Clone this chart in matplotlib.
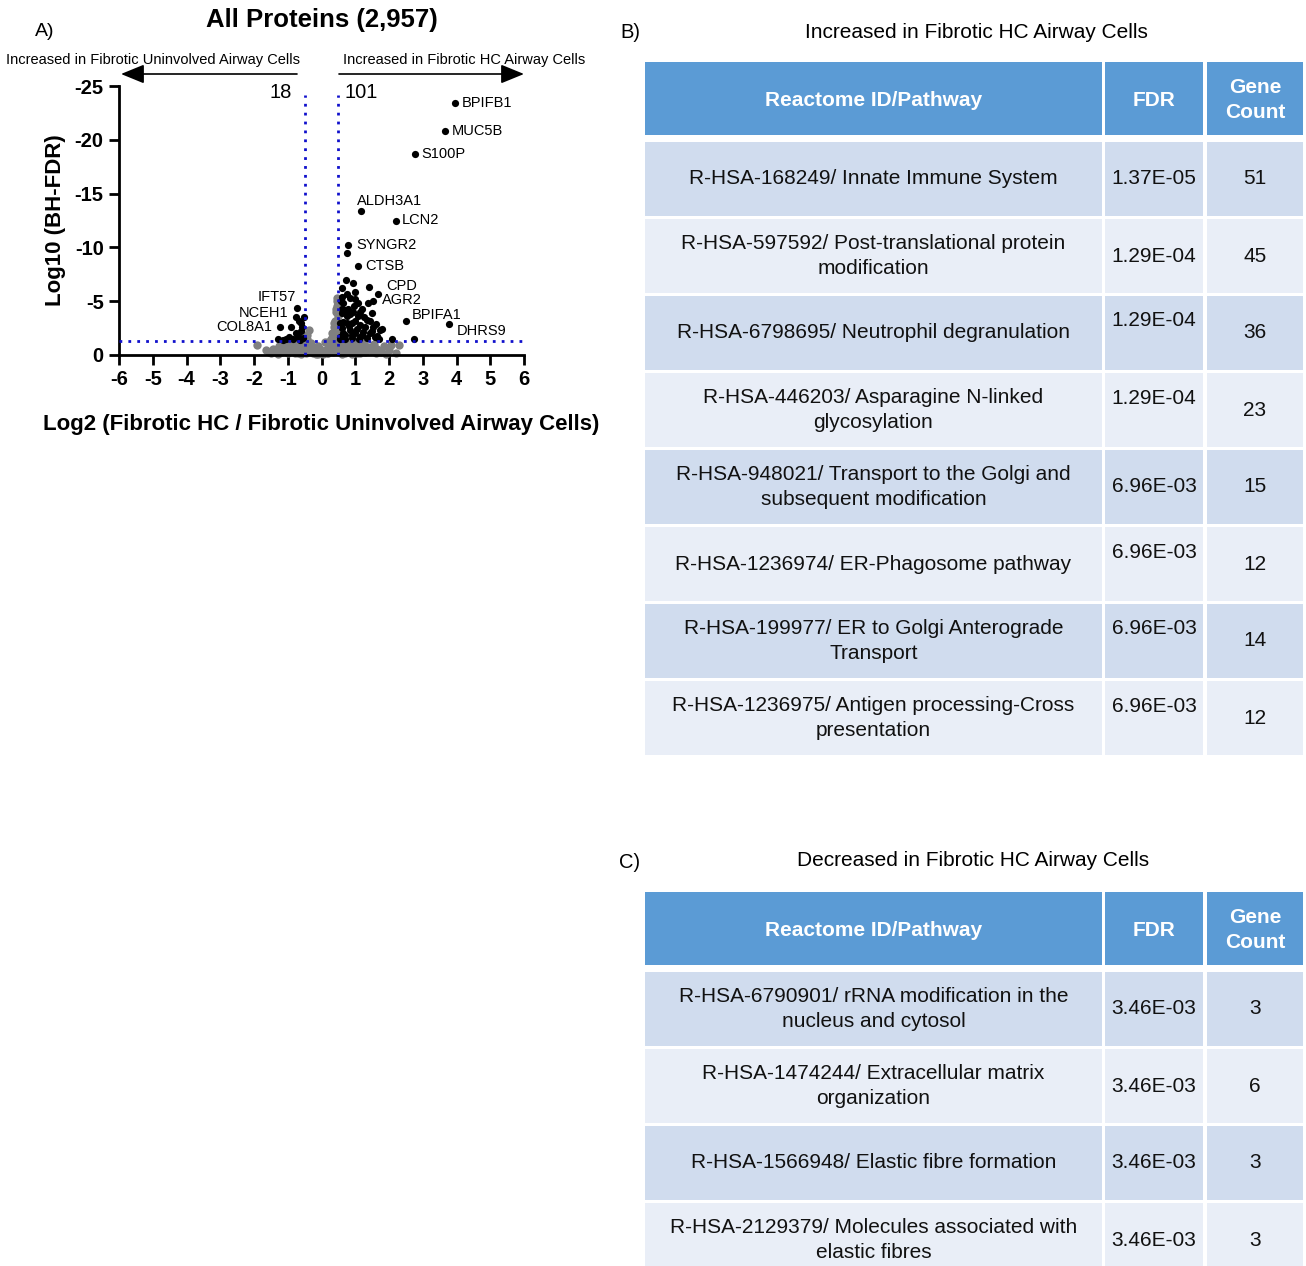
import matplotlib
matplotlib.use('Agg')
import matplotlib.pyplot as plt
from matplotlib.patches import Rectangle

plt.rcParams['font.family'] = ['Liberation Sans', 'DejaVu Sans']

# ------------------------------------------------------------------
# Volcano data
# ------------------------------------------------------------------
up_x = [3.96, 3.66, 2.77, 1.17, 2.21, 0.79, 0.76, 1.08, 1.42, 1.68, 1.52, 2.50, 3.78, 2.08, 2.74,
        0.73, 0.94, 0.60, 0.75, 0.99, 0.60, 0.84, 1.09, 0.64, 1.39, 0.79, 1.19, 0.94, 1.49, 0.60,
        0.75, 1.09, 1.34, 0.64, 0.89, 1.14, 1.53, 1.73, 0.60, 0.84, 1.24, 0.99, 1.44, 0.70, 1.14,
        1.59, 0.55, 0.89, 1.34, 0.55, 0.70, 0.85, 1.00, 1.25, 0.65, 0.80, 1.05, 1.20, 1.50, 1.65,
        1.80, 0.95, 0.60, 0.75, 1.30, 0.90, 1.10, 0.55, 1.70, 1.45, 0.70, 1.00, 1.60, 0.58, 1.15]
up_y = [-23.4, -20.8, -18.7, -13.4, -12.5, -10.2, -9.5, -8.3, -6.35, -5.64, -5.05, -3.13, -2.88, -1.52, -1.52,
        -6.97, -6.66, -6.20, -5.70, -5.90, -5.40, -5.30, -4.80, -4.80, -4.80, -4.30, -4.30, -4.00, -3.90, -3.90,
        -3.60, -3.60, -3.25, -3.10, -2.95, -2.80, -2.60, -2.30, -2.50, -2.30, -2.15, -2.00, -2.00, -1.85, -1.70,
        -1.70, -1.70, -1.55, -1.55, -3.00, -4.20, -3.80, -3.20, -3.50, -2.00, -2.70, -2.40, -1.90, -2.20, -1.80,
        -2.40, -4.60, -4.30, -3.00, -2.60, -1.90, -1.45, -1.45, -1.50, -3.20, -1.45, -5.20, -2.90, -5.00, -4.00]

down_x = [-0.72, -0.76, -0.52, -0.68, -0.60, -1.23, -0.90, -1.30, -0.95, -0.85, -0.70, -0.62,
          -0.55, -0.75, -1.05, -0.58, -0.65, -1.15]
down_y = [-4.4, -3.5, -3.5, -3.2, -3.0, -2.57, -2.6, -1.52, -1.7, -1.5, -1.8, -2.2,
          -1.6, -2.0, -1.5, -2.6, -1.4, -1.4]

ns_x = [-1.90, -1.65, -1.55, -1.45, -1.35, -1.25, -1.20, -1.10, -1.05, -0.95, -0.90, -0.85, -0.80,
        -0.75, -0.70, -0.65, -0.60, -0.55, -0.50, -0.45, -0.42, -0.38, -0.40, -0.35, -0.30, -0.25,
        -0.20, -0.15, -0.10, -0.05, 0.00, 0.05, 0.10, 0.15, 0.20, 0.22, 0.25, 0.28, 0.30, 0.32,
        0.35, 0.36, 0.38, 0.40, 0.42, 0.43, 0.45, 0.46, 0.47, 0.48, 0.48, 0.50, 0.55, 0.60, 0.65,
        0.70, 0.75, 0.80, 0.85, 0.90, 0.95, 1.00, 1.05, 1.10, 1.20, 1.25, 1.30, 1.40, 1.50, 1.55,
        1.65, 1.75, 1.85, 2.00, 2.05, 2.20, 2.30, -0.30, -0.10, 0.10, 0.30, -0.60, 0.60, 0.90,
        -1.50, -1.30, -1.00, -0.85, -0.70, -0.55, -0.45, -0.35, -0.25, -0.15, -0.05, 0.05, 0.15,
        0.25, 0.35, 0.40, 0.45, 0.52, 0.65, 0.75, 0.88, 1.00, 1.15, 1.35, 1.60, 1.90, 0.42, 0.33,
        0.38, 0.45, -0.48, -0.44, 0.20, 0.27]
ns_y = [-0.9, -0.5, -0.3, -0.6, -0.4, -0.8, -0.3, -0.6, -1.0, -0.4, -0.8, -1.2, -0.2,
        -0.6, -1.0, -0.3, -0.8, -1.2, -0.5, -0.2, -1.5, -2.3, -0.9, -0.4, -0.7, -0.15,
        -0.5, -0.3, -0.1, -0.4, -0.2, -0.05, -0.3, -0.6, -0.2, -1.0, -0.5, -1.5, -0.8, -2.0,
        -0.3, -2.6, -1.2, -3.2, -0.6, -4.0, -1.8, -4.6, -5.3, -2.4, -3.6, -0.9, -0.4, -1.1, -0.7,
        -0.2, -1.0, -0.5, -0.8, -0.3, -1.2, -0.6, -0.2, -0.9, -0.5, -1.1, -0.3, -0.7, -0.4, -1.0,
        -0.6, -0.3, -0.8, -0.5, -0.9, -0.2, -0.9, -1.1, -0.8, -1.2, -1.0, -0.1, -0.1, -0.1,
        -0.15, -0.1, -0.2, -0.45, -0.15, -0.3, -0.7, -0.55, -0.35, -0.1, -0.6, -0.3, -0.15,
        -0.75, -1.0, -1.7, -2.8, -1.25, -1.0, -0.4, -0.25, -0.9, -0.15, -0.5, -0.2, -0.1, -4.3, -1.7,
        -3.0, -5.0, -1.3, -1.9, -1.25, -0.9]

label_genes = ['BPIFB1', 'MUC5B', 'S100P', 'ALDH3A1', 'LCN2', 'SYNGR2', 'CTSB', 'CPD',
               'AGR2', 'BPIFA1', 'DHRS9', 'IFT57', 'NCEH1', 'COL8A1']
label_x = [3.96, 3.66, 2.77, 1.17, 2.21, 0.79, 1.08, 1.42, 1.68, 2.50, 3.78, -0.72, -0.76, -1.23]
label_y = [-23.4, -20.8, -18.7, -13.4, -12.5, -10.2, -8.3, -6.35, -5.64, -3.13, -2.88, -4.4, -3.5, -2.57]
# text offsets in pixels (dx, dy up) and alignment
label_off = [(7, 0), (7, 0), (6, 0), (-4, 10), (6, 0), (8, 0), (7, 0), (17, 1),
             (4, -6), (6, 6), (8, -7), (-1, 11), (-7, 4), (-8, 0)]
label_ha = ['left'] * 11 + ['right'] * 3

n_up, n_down = 101, 18
fdr_cut = -1.3
fc_cut = 0.5
x_ticks = list(range(-6, 7))
y_ticks = [0, -5, -10, -15, -20, -25]

# ------------------------------------------------------------------
# Table data
# ------------------------------------------------------------------
inc_pathways = ['R-HSA-168249/ Innate Immune System',
                'R-HSA-597592/ Post-translational protein\nmodification',
                'R-HSA-6798695/ Neutrophil degranulation',
                'R-HSA-446203/ Asparagine N-linked\nglycosylation',
                'R-HSA-948021/ Transport to the Golgi and\nsubsequent modification',
                'R-HSA-1236974/ ER-Phagosome pathway',
                'R-HSA-199977/ ER to Golgi Anterograde\nTransport',
                'R-HSA-1236975/ Antigen processing-Cross\npresentation']
inc_fdr = ['1.37E-05', '1.29E-04', '1.29E-04', '1.29E-04', '6.96E-03', '6.96E-03', '6.96E-03', '6.96E-03']
inc_count = [51, 45, 36, 23, 15, 12, 14, 12]

dec_pathways = ['R-HSA-6790901/ rRNA modification in the\nnucleus and cytosol',
                'R-HSA-1474244/ Extracellular matrix\norganization',
                'R-HSA-1566948/ Elastic fibre formation',
                'R-HSA-2129379/ Molecules associated with\nelastic fibres']
dec_fdr = ['3.46E-03', '3.46E-03', '3.46E-03', '3.46E-03']
dec_count = [3, 6, 3, 3]

headers = ['Reactome ID/Pathway', 'FDR', 'Gene\nCount']

W, H = 1306, 1266
fig = plt.figure(figsize=(W / 100, H / 100), dpi=100)

# overlay in pixel coordinates for tables and free text
ov = fig.add_axes([0, 0, 1, 1])
ov.set_xlim(0, W)
ov.set_ylim(H, 0)
ov.axis('off')

# ------------------------------------------------------------------
# A) volcano
# ------------------------------------------------------------------
x0, x1, ytop, ybot = 119, 524, 86, 355
ax = fig.add_axes([x0 / W, 1 - ybot / H, (x1 - x0) / W, (ybot - ytop) / H])
ax.set_facecolor('none')
ax.scatter(ns_x, ns_y, s=36, color='#808080', linewidths=0, zorder=2, clip_on=False)
ax.scatter(up_x, up_y, s=27, color='black', linewidths=0, zorder=3)
ax.scatter(down_x, down_y, s=27, color='black', linewidths=0, zorder=3)
dot = dict(color='#1010CC', ls=(0, (1, 2.2)), lw=2, zorder=4)
ax.plot([-fc_cut, -fc_cut], [0, -24.2], **dot)
ax.plot([fc_cut, fc_cut], [0, -24.2], **dot)
ax.plot([-6, 6], [fdr_cut, fdr_cut], **dot)

for g, gx, gy, (dx, dy), ha in zip(label_genes, label_x, label_y, label_off, label_ha):
    ax.annotate(g, (gx, gy), xytext=(dx * 0.72, dy * 0.72), textcoords='offset points',
                ha=ha, va='center', fontsize=10.5)

ax.set_xlim(-6, 6)
ax.set_ylim(0, -25)
ax.set_xticks(x_ticks)
ax.set_xticklabels([str(t) for t in x_ticks])
ax.set_yticks(y_ticks)
ax.set_yticklabels([str(t) for t in y_ticks])
for s in ['top', 'right']:
    ax.spines[s].set_visible(False)
for s in ['left', 'bottom']:
    ax.spines[s].set_linewidth(2)
ax.tick_params(width=2, length=7, labelsize=14.5, pad=4)
for lbl in ax.get_xticklabels() + ax.get_yticklabels():
    lbl.set_fontweight('bold')
ax.set_xlabel('Log2 (Fibrotic HC / Fibrotic Uninvolved Airway Cells)', fontsize=16,
              fontweight='bold', labelpad=18)
ax.set_ylabel('Log10 (BH-FDR)', fontsize=16, fontweight='bold', labelpad=6)

ov.text(45, 32, 'A)', fontsize=14, ha='center', va='center')
ov.text(322, 20, 'All Proteins (2,957)', fontsize=18.5, fontweight='bold', ha='center', va='center')
ov.text(153, 60, 'Increased in Fibrotic Uninvolved Airway Cells', fontsize=10.5, ha='center', va='center')
ov.text(464, 60, 'Increased in Fibrotic HC Airway Cells', fontsize=10.5, ha='center', va='center')
arrow = dict(arrowstyle='-|>,head_length=1.1,head_width=0.45', mutation_scale=13,
             color='black', lw=1.2, shrinkA=0, shrinkB=0)
ov.annotate('', xy=(121, 74), xytext=(297, 74), arrowprops=arrow)
ov.annotate('', xy=(524, 74), xytext=(339, 74), arrowprops=arrow)
ov.text(292, 92, str(n_down), fontsize=14.5, ha='right', va='center')
ov.text(344, 92, str(n_up), fontsize=14.5, ha='left', va='center')

# ------------------------------------------------------------------
# B) and C) tables
# ------------------------------------------------------------------
cols = [(645, 1102), (1105, 1203), (1207, 1303)]
HEAD_C = '#5B9BD5'
ROW_C = ['#D0DCEE', '#E9EEF7']
TXT = 15


def draw_table(top, pathways, fdrs, counts, fdr_raise):
    # header
    for (a, b), h in zip(cols, headers):
        ov.add_patch(Rectangle((a, top), b - a, 73, color=HEAD_C, lw=0))
        ov.text((a + b) / 2, top + 38, h, color='white', fontweight='bold', fontsize=TXT,
                ha='center', va='center', linespacing=1.4)
    r0 = top + 80
    for i, (p, f, c, up) in enumerate(zip(pathways, fdrs, counts, fdr_raise)):
        y = r0 + i * 77
        for a, b in cols:
            ov.add_patch(Rectangle((a, y), b - a, 74, color=ROW_C[i % 2], lw=0))
        yc = y + 37
        ov.text((cols[0][0] + cols[0][1]) / 2, yc, p, fontsize=TXT, ha='center', va='center',
                linespacing=1.45, color='#111111')
        ov.text((cols[1][0] + cols[1][1]) / 2, yc - (12 if up else 0), f, fontsize=TXT,
                ha='center', va='center', color='#111111')
        ov.text((cols[2][0] + cols[2][1]) / 2, yc, str(c), fontsize=TXT, ha='center', va='center',
                color='#111111')


ov.text(630, 32, 'B)', fontsize=14.5, ha='center', va='center')
ov.text(976, 32, 'Increased in Fibrotic HC Airway Cells', fontsize=15, ha='center', va='center')
draw_table(62, inc_pathways, inc_fdr, inc_count,
           [False, False, True, True, False, True, True, True])

ov.text(630, 862, 'C)', fontsize=14.5, ha='center', va='center')
ov.text(973, 860, 'Decreased in Fibrotic HC Airway Cells', fontsize=15, ha='center', va='center')
draw_table(892, dec_pathways, dec_fdr, dec_count, [False] * 4)

fig.savefig('out.png', dpi=100)
